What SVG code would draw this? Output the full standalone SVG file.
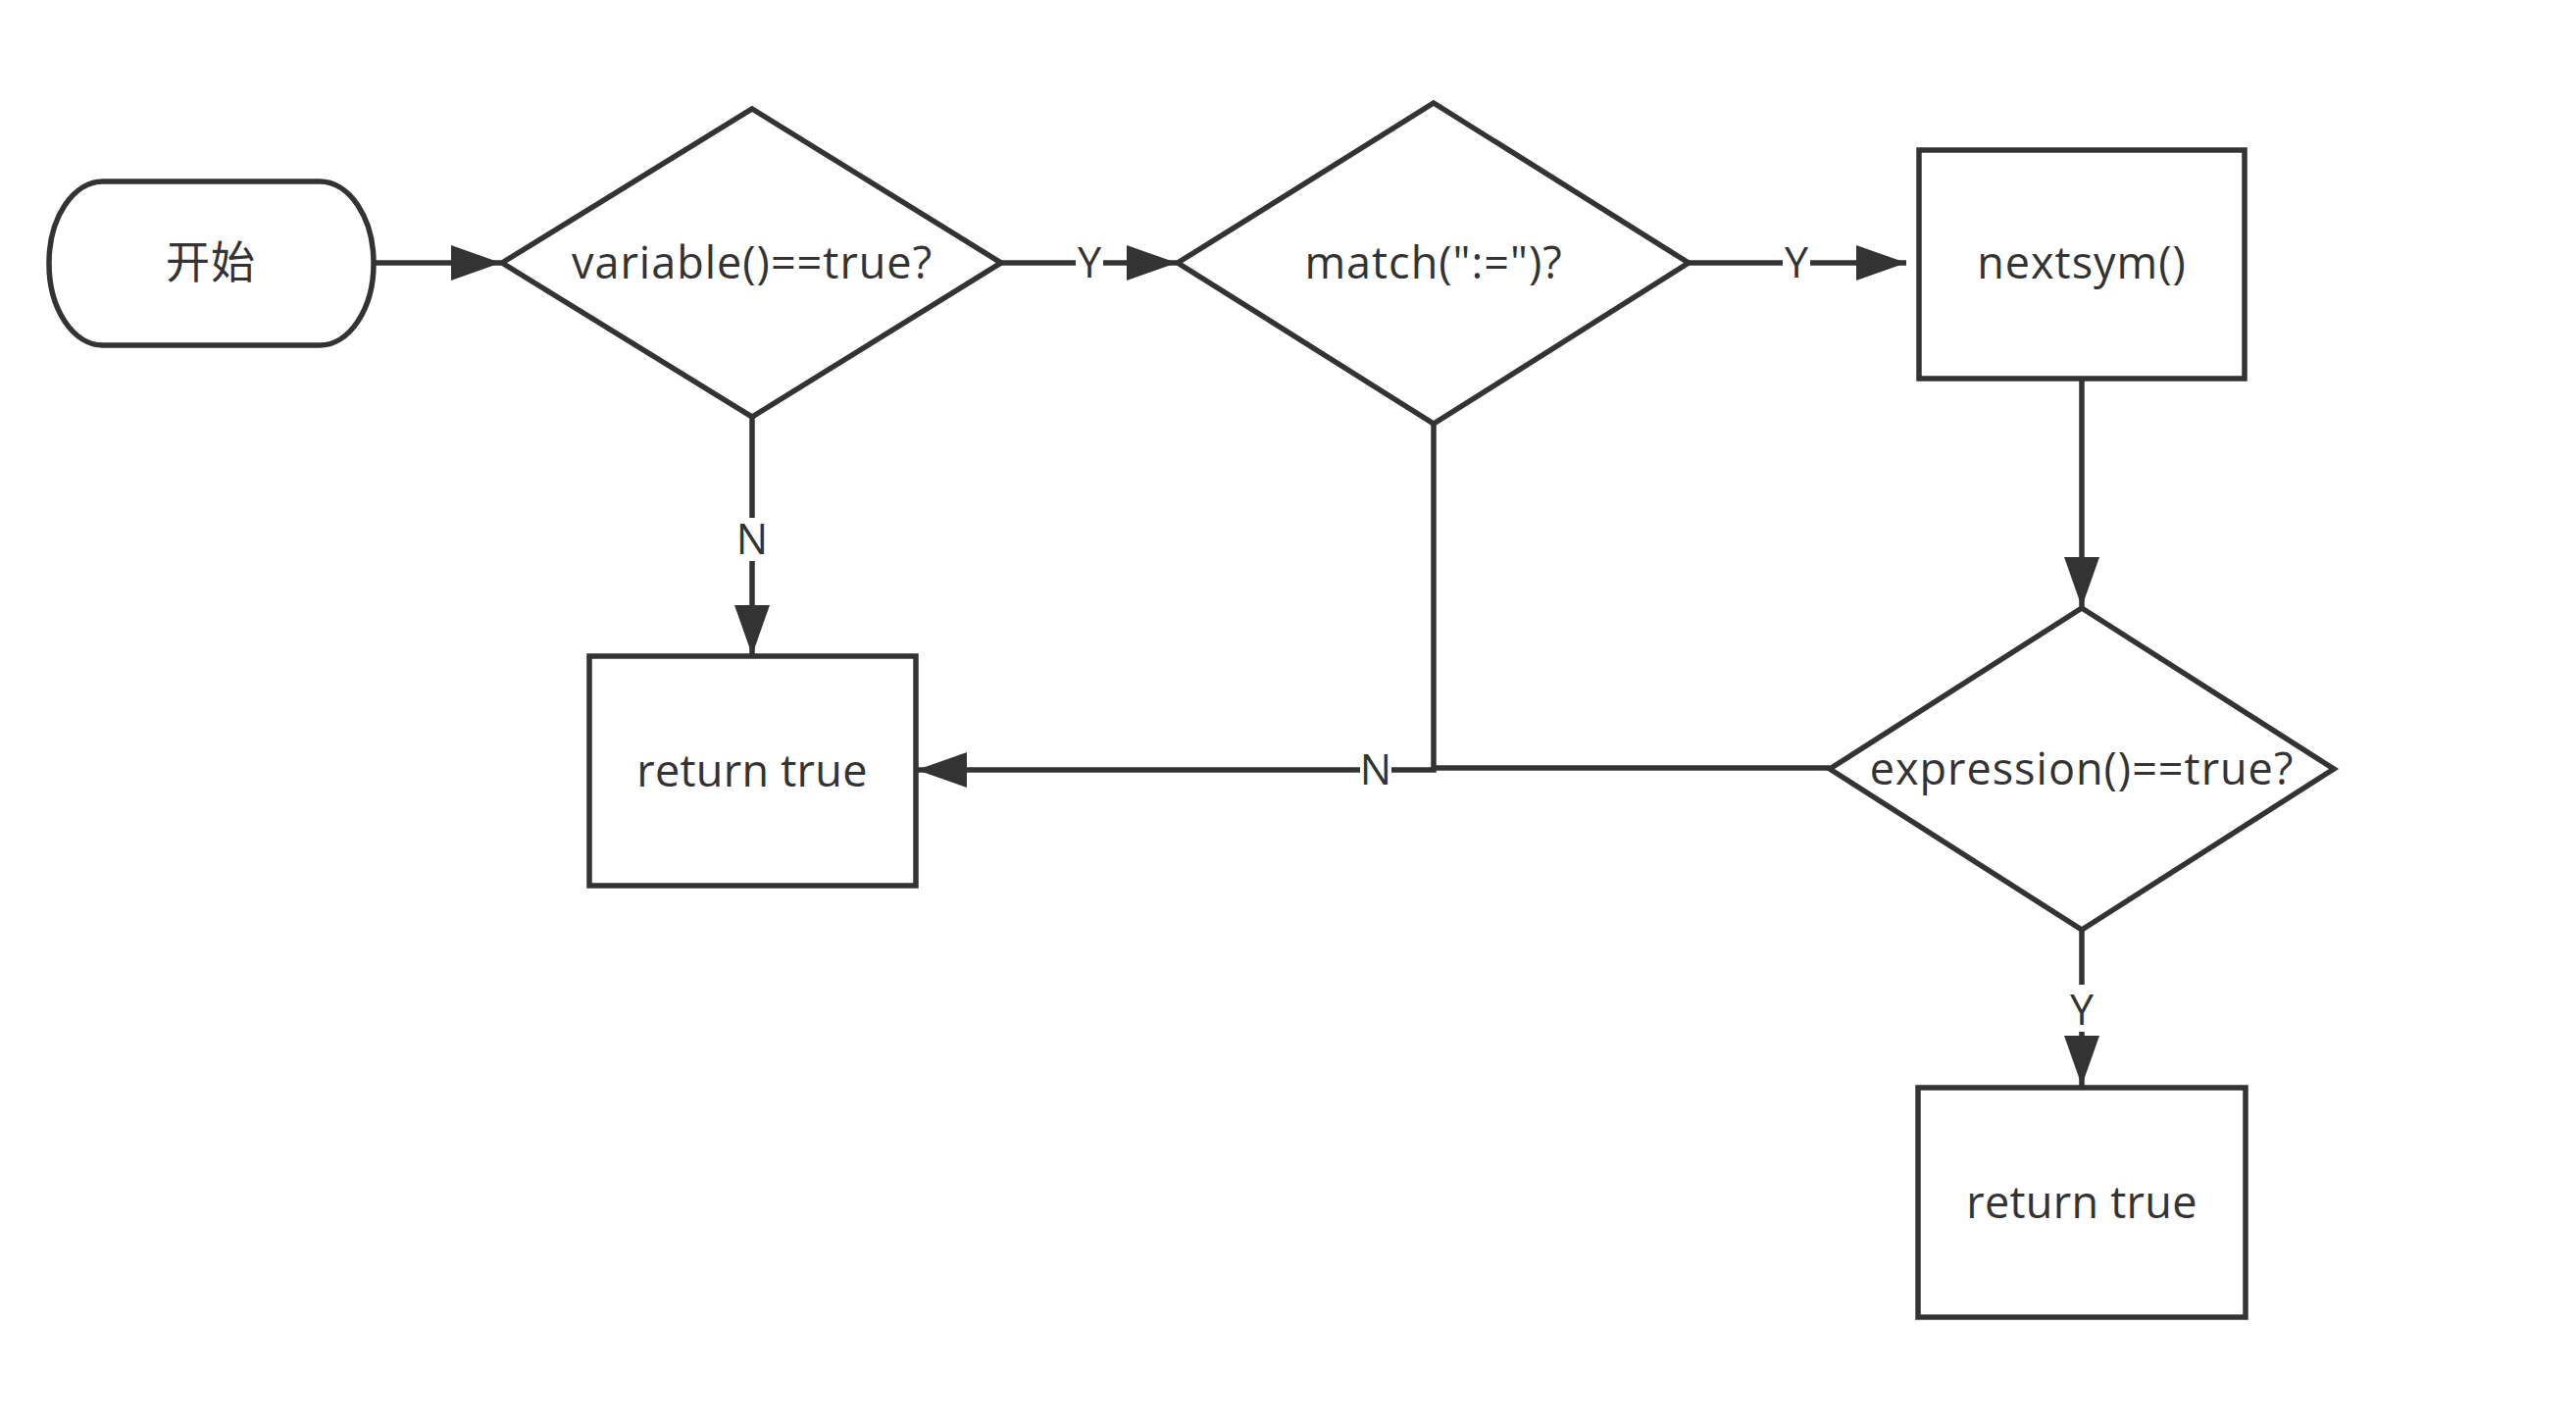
<svg xmlns="http://www.w3.org/2000/svg" width="2627" height="1456" viewBox="0 0 2627 1456">
<style>
.shape{fill:#ffffff;stroke:#333333;stroke-width:5.5}
.conn{fill:none;stroke:#333333;stroke-width:5.5}
.txt{font-family:"Open Sans","Noto Sans CJK SC",sans-serif;font-size:45px;fill:#333333;text-anchor:middle;letter-spacing:1px}
.ret{letter-spacing:0.3px}
.lbl{font-family:"Open Sans",sans-serif;font-size:43px;fill:#333333;text-anchor:middle}
.lblbg{fill:#ffffff;stroke:none}
</style>
<defs>
<marker id="arrow" markerUnits="userSpaceOnUse" markerWidth="52" markerHeight="36" refX="51" refY="18" orient="auto">
<path d="M0,0 L51,18 L0,36 Z" fill="#333333"/>
</marker>
</defs>
<rect width="2627" height="1456" fill="#ffffff"/>
<g id="connectors">
<path class="conn" d="M381,268 L511,268" marker-end="url(#arrow)"/>
<path class="conn" d="M1021,268 L1200,268" marker-end="url(#arrow)"/>
<path class="conn" d="M1722,268 L1944,268" marker-end="url(#arrow)"/>
<path class="conn" d="M767,425 L767,668" marker-end="url(#arrow)"/>
<path class="conn" d="M2123,386 L2123,619" marker-end="url(#arrow)"/>
<path class="conn" d="M1462,432 L1462,785 L935,785" marker-end="url(#arrow)"/>
<path class="conn" d="M1866,783 L1462,783"/>
<path class="conn" d="M2123,948 L2123,1107" marker-end="url(#arrow)"/>
<rect class="lblbg" x="1097" y="250" width="28" height="36"/>
<text class="lbl" x="1111" y="283">Y</text>
<rect class="lblbg" x="1818" y="250" width="28" height="36"/>
<text class="lbl" x="1832" y="283">Y</text>
<rect class="lblbg" x="751" y="528" width="32" height="44"/>
<text class="lbl" x="767" y="565">N</text>
<rect class="lblbg" x="1387" y="764" width="32" height="42"/>
<text class="lbl" x="1403" y="800">N</text>
<rect class="lblbg" x="2107" y="1004" width="32" height="48"/>
<text class="lbl" x="2123" y="1045">Y</text>
</g>
<g id="start">
<rect class="shape" x="50" y="185" width="331" height="167" rx="55" ry="83"/>
<text class="txt" x="215" y="284">开始</text>
</g>
<g id="decision-variable">
<polygon class="shape" points="767,111 1021,268 767,425 512,268"/>
<text class="txt" x="767" y="284">variable()==true?</text>
</g>
<g id="decision-match">
<polygon class="shape" points="1462,105 1722,268 1462,432 1201,268"/>
<text class="txt" x="1462" y="284">match(":=")?</text>
</g>
<g id="process-nextsym">
<rect class="shape" x="1957" y="153" width="332" height="233"/>
<text class="txt" x="2123" y="284">nextsym()</text>
</g>
<g id="return-true-1">
<rect class="shape" x="601" y="669" width="333" height="234"/>
<text class="txt ret" x="767" y="802">return true</text>
</g>
<g id="decision-expression">
<polygon class="shape" points="2123,620 2380,784 2123,948 1866,784"/>
<text class="txt" x="2123" y="800">expression()==true?</text>
</g>
<g id="return-true-2">
<rect class="shape" x="1956" y="1109" width="334" height="234"/>
<text class="txt ret" x="2123" y="1242">return true</text>
</g>
</svg>
